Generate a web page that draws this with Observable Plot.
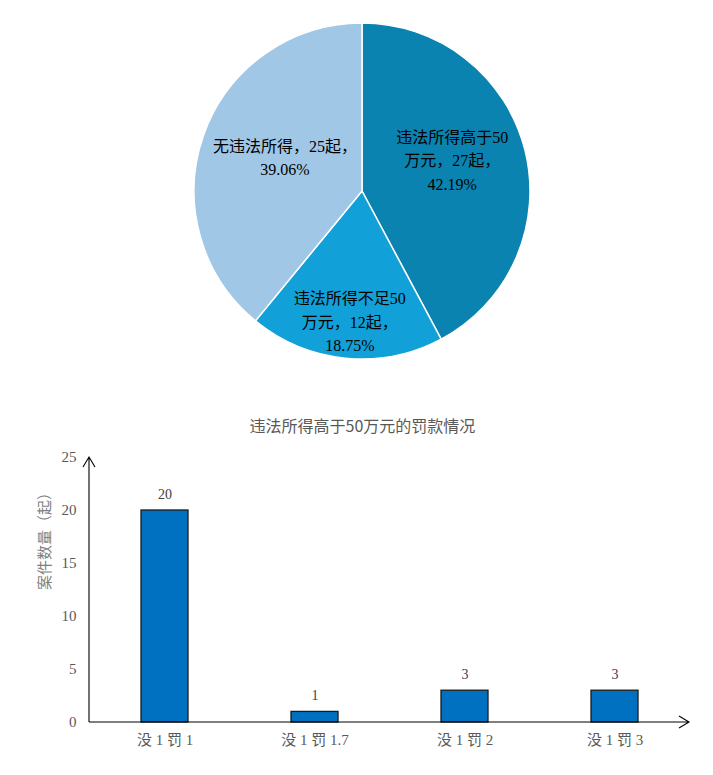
<!DOCTYPE html>
<html><head><meta charset="utf-8">
<script src="https://cdn.jsdelivr.net/npm/d3@7"></script>
<script src="https://cdn.jsdelivr.net/npm/@observablehq/plot@0.6"></script>
<style>
body{margin:0;background:#fff;font-family:"Liberation Serif","Noto Sans CJK SC",serif;}
#title{height:25px;padding-top:25px;line-height:20px;font-size:16px;color:#595959;text-align:center;padding-left:12px;font-family:"Noto Sans CJK SC",sans-serif;}
svg{display:block;}
</style>
</head><body>
<div id="pie"></div>
<div id="title">违法所得高于50万元的罚款情况</div>
<div id="bar"></div>
<script>
// ---- data ----
const pieCategories = ["违法所得高于50万元", "违法所得不足50万元", "无违法所得"];
const pieCounts = [27, 12, 25];
const piePercents = ["42.19%", "18.75%", "39.06%"];
const pieLabelText = ["违法所得高于50\n万元，27起，\n42.19%", "违法所得不足50\n万元，12起，\n18.75%", "无违法所得，25起，\n39.06%"];
const pieColors = ["#0b83b0", "#11a0d7", "#a1c7e7"];

const barCategories = ["没 1 罚 1", "没 1 罚 1.7", "没 1 罚 2", "没 1 罚 3"];
const barValues = [20, 1, 3, 3];
const yTicks = [0, 5, 10, 15, 20, 25];

const FONT = '"Liberation Serif","Noto Sans CJK SC",serif';

// ---- pie ----
const arcs = d3.pie().sort(null).value(d => d)(pieCounts);
const labelRadius = [0.55, 0.77, 0.49];
const labelDy = [-10, 0, -8];
const pieLabels = arcs.map((a, i) => {
  const m = (a.startAngle + a.endAngle) / 2;
  return {text: pieLabelText[i], x: labelRadius[i] * Math.sin(m), y: labelRadius[i] * Math.cos(m), dy: labelDy[i]};
});

const pieMark = (index, scales, values, dims) => {
  const cx = scales.x(0), cy = scales.y(0), r = scales.x(1) - cx;
  const arc = d3.arc().innerRadius(0).outerRadius(r);
  const g = d3.create("svg:g").attr("transform", `translate(${cx},${cy})`);
  g.selectAll("path").data(arcs).join("path")
    .attr("d", arc)
    .attr("fill", (d, i) => pieColors[i])
    .attr("stroke", "#fff")
    .attr("stroke-width", 1.5);
  return g.node();
};

const pie = Plot.plot({
  width: 713, height: 390,
  margin: 0,
  style: {fontFamily: FONT, fontSize: "16px", background: "white", overflow: "visible"},
  x: {domain: [-1, 1], range: [194, 530], axis: null},
  y: {domain: [-1, 1], range: [359, 23], axis: null},
  marks: [
    pieMark,
    ...pieLabels.map(d => Plot.text([d], {x: "x", y: "y", text: "text", dy: d.dy, fill: "#000", fontSize: 16, lineHeight: 1.45, textAnchor: "middle"}))
  ]
});
document.getElementById("pie").appendChild(pie);

// ---- bar ----
const barData = barCategories.map((c, i) => ({cat: c, value: barValues[i]}));

const axesMark = (index, scales, values, dims) => {
  const x0 = dims.marginLeft, y0 = dims.height - dims.marginBottom;
  const yTop = dims.marginTop, xRight = dims.width - dims.marginRight;
  const g = d3.create("svg:g").attr("stroke", "#000").attr("fill", "none").attr("stroke-width", 1.1);
  g.append("path").attr("d", `M${x0},${y0}V${yTop}M${x0 - 6},${yTop + 10}L${x0},${yTop}L${x0 + 6},${yTop + 10}`);
  g.append("path").attr("d", `M${x0},${y0}H${xRight}M${xRight - 10},${y0 - 6}L${xRight},${y0}L${xRight - 10},${y0 + 6}`);
  return g.node();
};

const bar = Plot.plot({
  width: 713, height: 335,
  marginLeft: 89, marginRight: 24, marginTop: 17, marginBottom: 53,
  style: {fontFamily: FONT, fontSize: "15px", color: "#595959", background: "white", overflow: "visible"},
  x: {domain: barCategories, paddingInner: 0.69, paddingOuter: 0.345, tickSize: 0, tickPadding: 12, label: null},
  y: {domain: [0, 25], ticks: yTicks, tickSize: 0, tickPadding: 13, label: null},
  marks: [
    Plot.barY(barData, {x: "cat", y: "value", fill: "#0070c0", stroke: "#1a1a1a", strokeWidth: 1.3}),
    Plot.text(barData, {x: "cat", y: "value", text: d => String(d.value), dy: -16, fill: "#404040", fontSize: 14}),
    axesMark,
    Plot.text(["案件数量（起）"], {frameAnchor: "left", rotate: -90, dx: -44, fill: "#7f7f7f", fontSize: 15, fontFamily: '"Noto Sans CJK SC",sans-serif'})
  ]
});
document.getElementById("bar").appendChild(bar);
</script>
</body></html>
